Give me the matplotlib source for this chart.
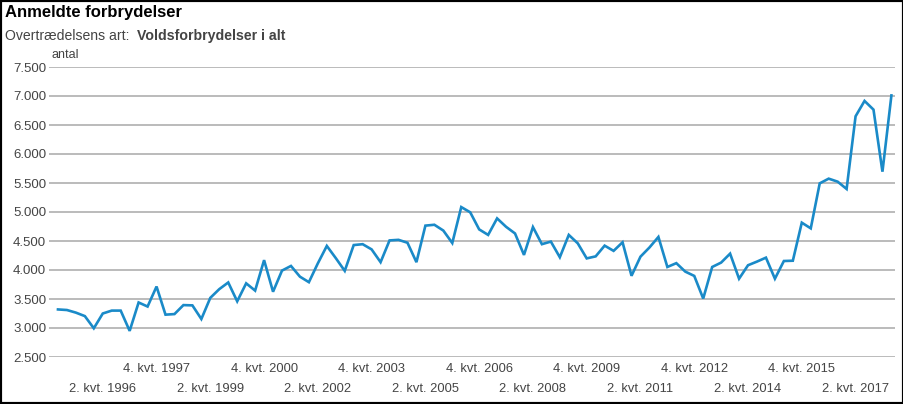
import matplotlib
matplotlib.use('Agg')
import matplotlib.pyplot as plt
from matplotlib.patches import Rectangle

plt.rcParams['font.family'] = ['Liberation Sans', 'DejaVu Sans']

# Anmeldte voldsforbrydelser pr. kvartal, 1. kvt. 1995 - 2. kvt. 2018
values = [
    3320, 3310, 3265, 3205, 2995, 3250, 3300, 3300, 2950, 3440,
    3370, 3715, 3230, 3240, 3395, 3390, 3155, 3520, 3670, 3785,
    3460, 3770, 3645, 4170, 3625, 3990, 4070, 3885, 3790, 4115,
    4415, 4205, 3985, 4430, 4445, 4355, 4135, 4510, 4520, 4470,
    4135, 4765, 4780, 4680, 4465, 5085, 4995, 4700, 4605, 4890,
    4745, 4630, 4260, 4740, 4445, 4490, 4220, 4605, 4460, 4200,
    4235, 4420, 4330, 4478, 3900, 4230, 4388, 4570, 4052, 4118,
    3972, 3898, 3508, 4052, 4128, 4282, 3850, 4082, 4145, 4213,
    3850, 4155, 4160, 4816, 4718, 5494, 5575, 5523, 5397, 6650,
    6915, 6765, 5695, 7010,
]
years = list(range(1995, 2019))
quarters = [f'{q}. kvt. {y}' for y in years for q in range(1, 5)][:len(values)]

# tick labels on two rows, every 6 quarters
upper_labels = ['4. kvt. 1997', '4. kvt. 2000', '4. kvt. 2003', '4. kvt. 2006',
                '4. kvt. 2009', '4. kvt. 2012', '4. kvt. 2015']
lower_labels = ['2. kvt. 1996', '2. kvt. 1999', '2. kvt. 2002', '2. kvt. 2005',
                '2. kvt. 2008', '2. kvt. 2011', '2. kvt. 2014', '2. kvt. 2017']
y_ticks = [2500, 3000, 3500, 4000, 4500, 5000, 5500, 6000, 6500, 7000, 7500]

W, H = 904, 404
fig = plt.figure(figsize=(W / 100, H / 100), dpi=100)
fig.patch.set_facecolor('white')
ax = fig.add_axes([49 / W, 1 - 357 / H, (895 - 49) / W, (357 - 67) / H])

x = list(range(len(values)))
ax.plot(x, values, color='#1a8ac8', linewidth=1.9, solid_joinstyle='miter', zorder=3)

ax.set_ylim(2500, 7500)
ax.set_xlim(-1, 93.4)
ax.set_yticks(y_ticks)
ax.set_yticklabels([f'{v:,}'.replace(',', '.') for v in y_ticks])
ax.yaxis.grid(True, color='#a8a8a8', linewidth=1.1, zorder=1)
ax.tick_params(axis='y', length=0, pad=2, labelsize=9.5, labelcolor='#444444')

ax.set_xticks([quarters.index(l) for l in upper_labels])
ax.set_xticklabels(upper_labels)
ax.set_xticks([quarters.index(l) for l in lower_labels], minor=True)
ax.set_xticklabels(lower_labels, minor=True)
ax.tick_params(axis='x', which='major', length=0, pad=4, labelsize=9.3, labelcolor='#444444')
ax.tick_params(axis='x', which='minor', length=0, pad=19, labelsize=9.3, labelcolor='#444444')

for s in ax.spines.values():
    s.set_visible(False)

fig.text(5 / W, 1 - 13 / H, 'Anmeldte forbrydelser', fontsize=12,
         fontweight='bold', color='black', va='center', ha='left')
fig.text(5 / W, 1 - 36 / H, 'Overtrædelsens art:', fontsize=10.1,
         color='#444444', va='center', ha='left')
fig.text(137 / W, 1 - 36 / H, 'Voldsforbrydelser i alt', fontsize=10.2,
         fontweight='bold', color='#444444', va='center', ha='left')
fig.text(52 / W, 1 - 55 / H, 'antal', fontsize=9, color='#444444',
         va='center', ha='left')

fig.patches.append(Rectangle((0, 0), 1, 1, transform=fig.transFigure,
                             fill=False, edgecolor='black', linewidth=3))

fig.savefig('out.png', dpi=100)
